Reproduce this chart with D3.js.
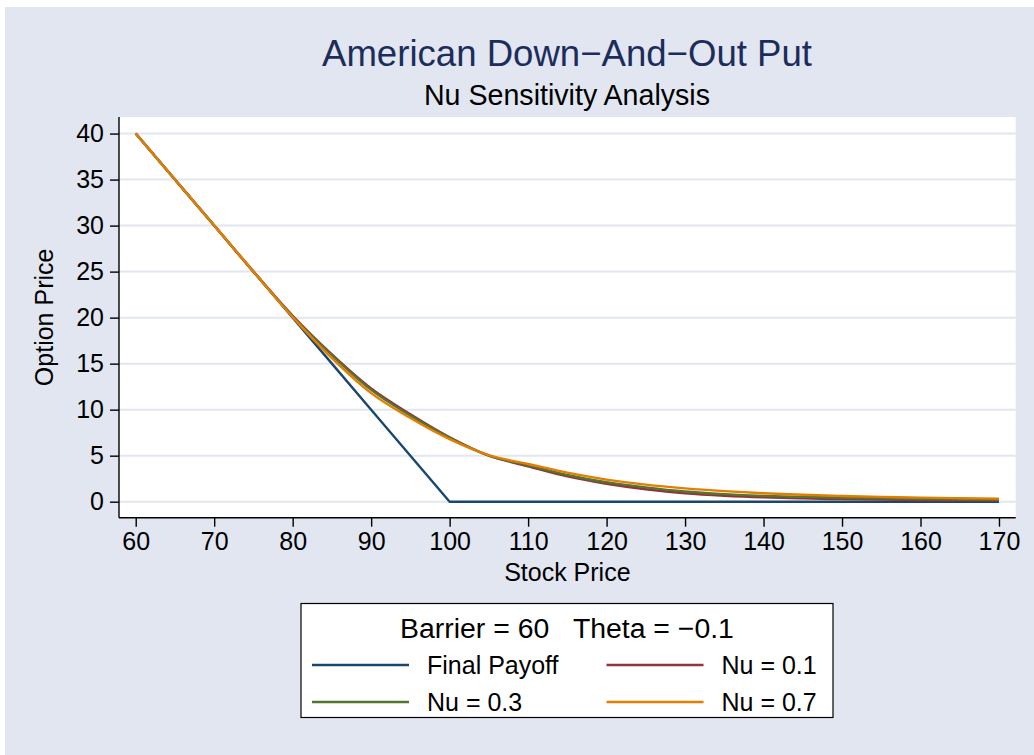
<!DOCTYPE html>
<html><head><meta charset="utf-8">
<script src="https://cdn.jsdelivr.net/npm/d3@7"></script>
<style>body{margin:0;background:#fff}svg{display:block}text{font-family:"Liberation Sans",Arial,Helvetica,sans-serif}</style>
</head><body>
<script>
const stockPrices = [60,65,70,75,80,85,90,95,100,105,110,115,120,125,130,135,140,145,150,155,160,165,170];
const finalPayoff = [40,35,30,25,20,15,10,5,0,0,0,0,0,0,0,0,0,0,0,0,0,0,0];
const nu01 = [40,35,30,25,20.2,16.0,12.3,9.5,7.0,5.0,3.85,2.75,1.95,1.35,0.92,0.65,0.47,0.36,0.28,0.22,0.18,0.15,0.12];
const nu03 = [40,35,30,25,20.15,15.9,12.15,9.35,6.95,5.0,3.95,2.9,2.12,1.55,1.1,0.82,0.63,0.52,0.43,0.36,0.3,0.25,0.2];
const nu07 = [40,35,30,25,20.05,15.6,11.8,9.1,6.8,5.05,4.1,3.15,2.4,1.85,1.45,1.15,0.92,0.75,0.62,0.52,0.44,0.38,0.33];
const seriesNames = ["Final Payoff","Nu = 0.1","Nu = 0.3","Nu = 0.7"];
const seriesColors = ["#1a476f","#90353b","#55752f","#e37e00"];
const xTicks = [60,70,80,90,100,110,120,130,140,150,160,170];
const yTicks = [0,5,10,15,20,25,30,35,40];
const titleText = "American Down\u2212And\u2212Out Put";
const subtitleText = "Nu Sensitivity Analysis";
const xTitle = "Stock Price";
const yTitle = "Option Price";
const legendTitle = "Barrier = 60\u00a0\u00a0\u00a0Theta = \u22120.1";

const W = 1034, H = 755;
const svg = d3.select("body").append("svg").attr("width", W).attr("height", H);
svg.append("rect").attr("x",5).attr("y",7).attr("width",W-5).attr("height",H-7).attr("fill","#e1e6f0");

const L = 119, R = 1015.7, T = 117, B = 517.7;
svg.append("rect").attr("x",L).attr("y",T).attr("width",R-L).attr("height",B-T).attr("fill","#fff");

const x = d3.scaleLinear().domain([57.87,172.13]).range([L,R]);
const y = d3.scaleLinear().domain([-1.74,41.8]).range([B,T]);

// gridlines
svg.append("g").selectAll("line").data(yTicks).join("line")
  .attr("x1",L).attr("x2",R).attr("y1",d=>y(d)).attr("y2",d=>y(d))
  .attr("stroke","#e1e6f0").attr("stroke-width",2);

// series
const series = [finalPayoff, nu01, nu03, nu07];
const line = d3.line().x((d,i)=>x(stockPrices[i])).y(d=>y(d)).curve(d3.curveMonotoneX);
const linePay = d3.line().x((d,i)=>x(stockPrices[i])).y(d=>y(d));
series.forEach((s,k)=>{
  svg.append("path").datum(s).attr("d", k===0 ? linePay : line)
    .attr("fill","none").attr("stroke",seriesColors[k]).attr("stroke-width",2.4)
    .attr("stroke-linejoin","round");
});

// axes
const fs = 25;
const yAxis = svg.append("g").attr("transform",`translate(${L},0)`)
  .call(d3.axisLeft(y).tickValues(yTicks).tickSize(9).tickPadding(6).tickSizeOuter(0));
const xAxis = svg.append("g").attr("transform",`translate(0,${B})`)
  .call(d3.axisBottom(x).tickValues(xTicks).tickSize(9).tickPadding(6).tickSizeOuter(0));
[yAxis,xAxis].forEach(a=>{
  a.select(".domain").attr("stroke","#000").attr("stroke-width",1.4);
  a.selectAll(".tick line").attr("stroke","#000").attr("stroke-width",1.4);
  a.selectAll(".tick text").attr("font-size",fs).attr("fill","#000").attr("font-family",null);
});
yAxis.select(".domain").attr("d",`M0,${T}V${B}`);
xAxis.select(".domain").attr("d",`M${L},0H${R}`);

// titles
svg.append("text").attr("x",567).attr("y",66).attr("text-anchor","middle")
  .attr("font-size",36.6).attr("fill","#1c2d5c").text(titleText);
svg.append("text").attr("x",567).attr("y",105).attr("text-anchor","middle")
  .attr("font-size",28.6).attr("fill","#000").text(subtitleText);
svg.append("text").attr("x",(L+R)/2).attr("y",581).attr("text-anchor","middle")
  .attr("font-size",fs).attr("fill","#000").text(xTitle);
svg.append("text").attr("transform",`translate(53,${(T+B)/2}) rotate(-90)`).attr("text-anchor","middle")
  .attr("font-size",fs).attr("fill","#000").text(yTitle);

// legend
const lg = svg.append("g");
lg.append("rect").attr("x",301).attr("y",603.5).attr("width",532).attr("height",114)
  .attr("fill","#fff").attr("stroke","#000").attr("stroke-width",1.2);
lg.append("text").attr("x",567).attr("y",638).attr("text-anchor","middle")
  .attr("font-size",28.4).attr("fill","#000").text(legendTitle);
const cols = [312, 606.5];
const rowsY = [665, 702];
seriesNames.forEach((n,k)=>{
  const cx = cols[k%2], cy = rowsY[Math.floor(k/2)];
  lg.append("line").attr("x1",cx).attr("x2",cx+97).attr("y1",cy).attr("y2",cy)
    .attr("stroke",seriesColors[k]).attr("stroke-width",2.4);
  lg.append("text").attr("x",cx+115).attr("y",cy+9).attr("font-size",fs).attr("fill","#000").text(n);
});
</script>
</body></html>
